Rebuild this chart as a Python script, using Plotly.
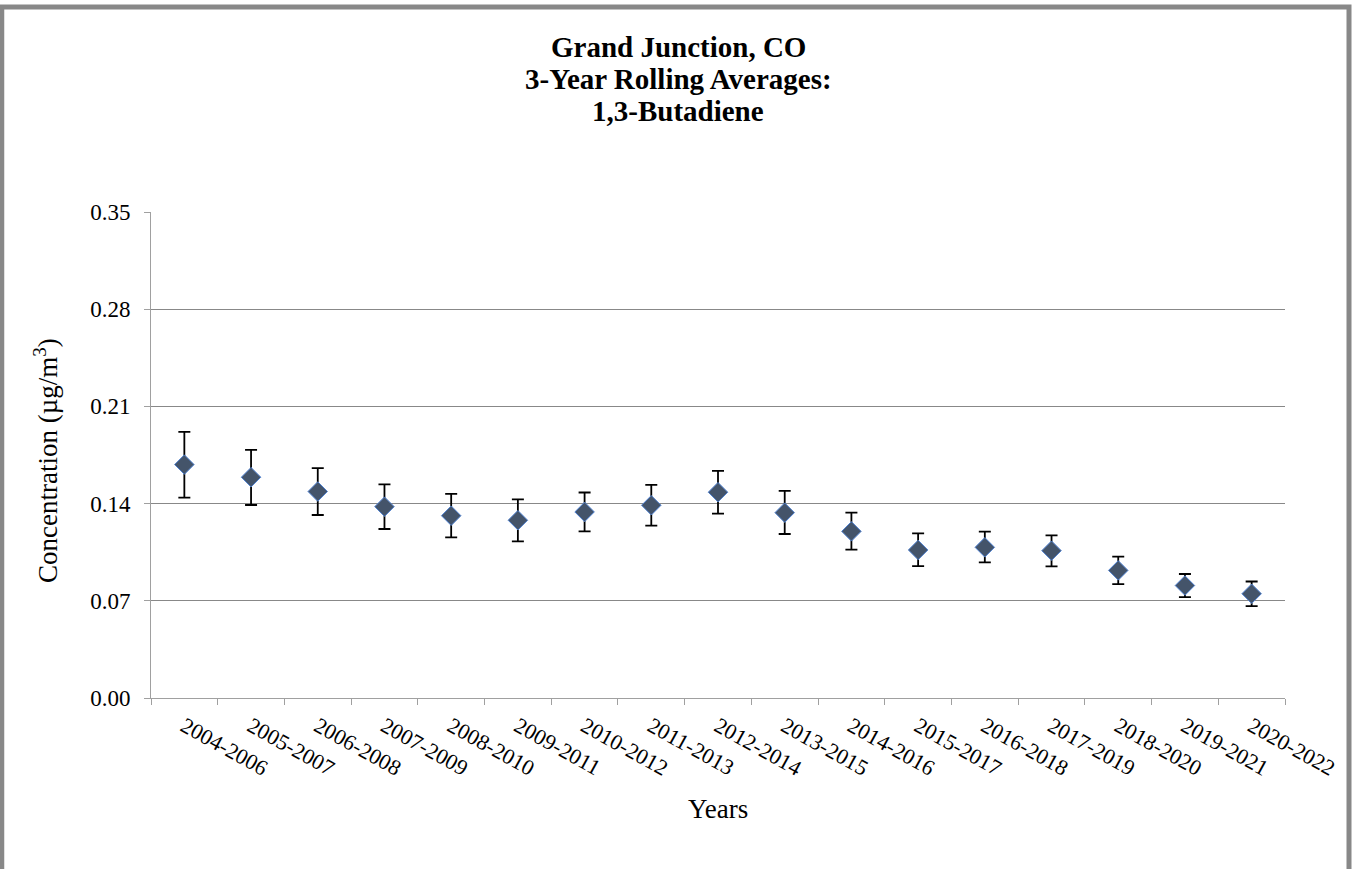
import plotly.graph_objects as go

years = ["2004-2006", "2005-2007", "2006-2008", "2007-2009", "2008-2010", "2009-2011",
         "2010-2012", "2011-2013", "2012-2014", "2013-2015", "2014-2016", "2015-2017",
         "2016-2018", "2017-2019", "2018-2020", "2019-2021", "2020-2022"]
averages = [0.1681, 0.1590, 0.1487, 0.1378, 0.1313, 0.1280, 0.1340, 0.1388, 0.1482,
            0.1335, 0.1200, 0.1066, 0.1085, 0.1061, 0.0919, 0.0810, 0.0751]
upper = [0.1917, 0.1787, 0.1655, 0.1539, 0.1470, 0.1431, 0.1480, 0.1535, 0.1636,
         0.1491, 0.1335, 0.1185, 0.1198, 0.1171, 0.1018, 0.0893, 0.0839]
lower = [0.1443, 0.1390, 0.1318, 0.1217, 0.1157, 0.1128, 0.1200, 0.1241, 0.1328,
         0.1181, 0.1068, 0.0950, 0.0977, 0.0948, 0.0820, 0.0727, 0.0662]
y_ticks = [0.00, 0.07, 0.14, 0.21, 0.28, 0.35]
title_lines = ["Grand Junction, CO", "3-Year Rolling Averages:", "1,3-Butadiene"]

err_plus = [u - a for u, a in zip(upper, averages)]
err_minus = [a - l for a, l in zip(averages, lower)]

FONT = "Liberation Serif, Times New Roman, serif"
W, H = 1356, 869
L, R, T, B = 151, 1285, 212, 698


def px_x(p):
    return (p - L) / (R - L)


def px_y(p):
    return (B - p) / (B - T)


fig = go.Figure()
fig.add_trace(go.Scatter(
    x=years, y=averages, mode="markers",
    marker=dict(symbol="diamond", size=15, color="#44546A",
                line=dict(color="#4F81D0", width=1)),
    error_y=dict(type="data", symmetric=False, array=err_plus, arrayminus=err_minus,
                 color="#000000", thickness=1.8, width=6),
    showlegend=False,
))

fig.add_shape(type="rect", xref="paper", yref="paper",
              x0=px_x(1.75), x1=px_x(1349), y0=px_y(885), y1=px_y(7),
              line=dict(color="#888888", width=5), fillcolor="rgba(0,0,0,0)", layer="below")

annotations = []
for i, line in enumerate(title_lines):
    annotations.append(dict(
        text="<b>%s</b>" % line, xref="paper", yref="paper",
        x=px_x(678), y=px_y(47 + 32 * i), xanchor="center", yanchor="middle",
        showarrow=False, font=dict(family=FONT, size=29, color="black")))
annotations.append(dict(
    text="Concentration (µg/m<sup>3</sup>)", xref="paper", yref="paper",
    x=px_x(46), y=px_y(461), xanchor="center", yanchor="middle", textangle=-90,
    showarrow=False, font=dict(family=FONT, size=27, color="black")))
annotations.append(dict(
    text="Years", xref="paper", yref="paper",
    x=px_x(718), y=px_y(809), xanchor="center", yanchor="middle",
    showarrow=False, font=dict(family=FONT, size=27, color="black")))

fig.update_layout(
    width=W, height=H,
    margin=dict(l=L, r=W - R, t=T, b=H - B),
    paper_bgcolor="white", plot_bgcolor="white",
    font=dict(family=FONT, color="black", size=23),
    annotations=annotations,
    xaxis=dict(type="category", range=[-0.5, len(years) - 0.5], tickson="boundaries",
               ticks="outside", ticklen=6, tickcolor="#A0A0A0", showline=True,
               linecolor="#A0A0A0", linewidth=1, showgrid=False, tickangle=29,
               tickfont=dict(size=22), ticklabelstandoff=6),
    yaxis=dict(range=[0, 0.35], tickvals=y_ticks, tickformat=".2f", ticks="outside",
               ticklen=6, tickcolor="#A0A0A0", showline=True, linecolor="#A0A0A0",
               linewidth=1, showgrid=True, gridcolor="#888888", gridwidth=1,
               zeroline=False, tickfont=dict(size=23), ticklabelstandoff=9),
)

fig.write_html("out.html", config={"displayModeBar": False},
               post_script="document.body.style.margin='0px';")
